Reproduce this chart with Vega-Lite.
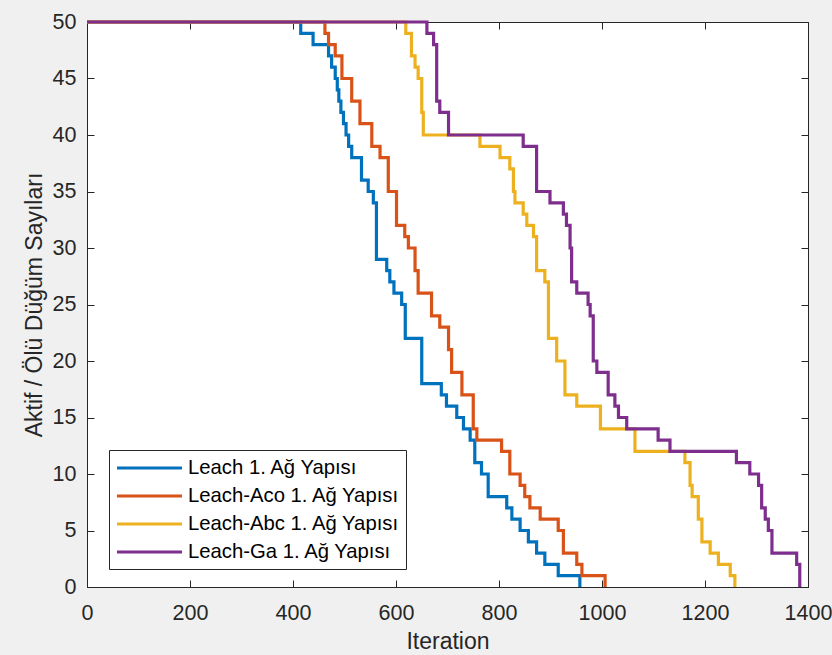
{
  "$schema": "https://vega.github.io/schema/vega-lite/v6.json",
  "width": 721,
  "height": 565,
  "autosize": {"type": "none"},
  "padding": {"left": 87, "top": 22, "right": 24, "bottom": 68},
  "background": "#f0f0f0",
  "config": {
    "font": "Liberation Sans",
    "view": {"fill": "white", "stroke": "#262626", "strokeWidth": 1},
    "axis": {
      "domainColor": "#262626",
      "tickColor": "#262626",
      "labelColor": "#262626",
      "titleColor": "#262626",
      "labelFont": "Liberation Sans",
      "titleFont": "Liberation Sans",
      "labelFontSize": 21.5,
      "titleFontSize": 23,
      "titleFontWeight": "normal",
      "grid": false,
      "tickSize": -7,
      "labelPadding": 18,
      "labelFlush": false,
      "labelOverlap": false,
      "format": "d"
    }
  },
  "data": {
    "values": [
      {"s": "Leach 1. Ağ Yapısı", "iteration": 0, "alive": 50},
      {"s": "Leach 1. Ağ Yapısı", "iteration": 415, "alive": 49},
      {"s": "Leach 1. Ağ Yapısı", "iteration": 439, "alive": 48},
      {"s": "Leach 1. Ağ Yapısı", "iteration": 469, "alive": 47},
      {"s": "Leach 1. Ağ Yapısı", "iteration": 475, "alive": 46},
      {"s": "Leach 1. Ağ Yapısı", "iteration": 482, "alive": 45},
      {"s": "Leach 1. Ağ Yapısı", "iteration": 486, "alive": 44},
      {"s": "Leach 1. Ağ Yapısı", "iteration": 489, "alive": 43},
      {"s": "Leach 1. Ağ Yapısı", "iteration": 493, "alive": 42},
      {"s": "Leach 1. Ağ Yapısı", "iteration": 498, "alive": 41},
      {"s": "Leach 1. Ağ Yapısı", "iteration": 503, "alive": 40},
      {"s": "Leach 1. Ağ Yapısı", "iteration": 508, "alive": 39},
      {"s": "Leach 1. Ağ Yapısı", "iteration": 514, "alive": 38},
      {"s": "Leach 1. Ağ Yapısı", "iteration": 533, "alive": 36},
      {"s": "Leach 1. Ağ Yapısı", "iteration": 546, "alive": 35},
      {"s": "Leach 1. Ağ Yapısı", "iteration": 556, "alive": 34},
      {"s": "Leach 1. Ağ Yapısı", "iteration": 562, "alive": 29},
      {"s": "Leach 1. Ağ Yapısı", "iteration": 582, "alive": 28},
      {"s": "Leach 1. Ağ Yapısı", "iteration": 588, "alive": 27},
      {"s": "Leach 1. Ağ Yapısı", "iteration": 596, "alive": 26},
      {"s": "Leach 1. Ağ Yapısı", "iteration": 611, "alive": 25},
      {"s": "Leach 1. Ağ Yapısı", "iteration": 618, "alive": 22},
      {"s": "Leach 1. Ağ Yapısı", "iteration": 650, "alive": 18},
      {"s": "Leach 1. Ağ Yapısı", "iteration": 688, "alive": 17},
      {"s": "Leach 1. Ağ Yapısı", "iteration": 698, "alive": 16},
      {"s": "Leach 1. Ağ Yapısı", "iteration": 718, "alive": 15},
      {"s": "Leach 1. Ağ Yapısı", "iteration": 731, "alive": 14},
      {"s": "Leach 1. Ağ Yapısı", "iteration": 744, "alive": 13},
      {"s": "Leach 1. Ağ Yapısı", "iteration": 753, "alive": 11},
      {"s": "Leach 1. Ağ Yapısı", "iteration": 766, "alive": 10},
      {"s": "Leach 1. Ağ Yapısı", "iteration": 779, "alive": 8},
      {"s": "Leach 1. Ağ Yapısı", "iteration": 815, "alive": 7},
      {"s": "Leach 1. Ağ Yapısı", "iteration": 825, "alive": 6},
      {"s": "Leach 1. Ağ Yapısı", "iteration": 841, "alive": 5},
      {"s": "Leach 1. Ağ Yapısı", "iteration": 857, "alive": 4},
      {"s": "Leach 1. Ağ Yapısı", "iteration": 873, "alive": 3},
      {"s": "Leach 1. Ağ Yapısı", "iteration": 889, "alive": 2},
      {"s": "Leach 1. Ağ Yapısı", "iteration": 915, "alive": 1},
      {"s": "Leach 1. Ağ Yapısı", "iteration": 957, "alive": 0},

      {"s": "Leach-Aco 1. Ağ Yapısı", "iteration": 0, "alive": 50},
      {"s": "Leach-Aco 1. Ağ Yapısı", "iteration": 462, "alive": 49},
      {"s": "Leach-Aco 1. Ağ Yapısı", "iteration": 469, "alive": 48},
      {"s": "Leach-Aco 1. Ağ Yapısı", "iteration": 482, "alive": 47},
      {"s": "Leach-Aco 1. Ağ Yapısı", "iteration": 495, "alive": 45},
      {"s": "Leach-Aco 1. Ağ Yapısı", "iteration": 514, "alive": 43},
      {"s": "Leach-Aco 1. Ağ Yapısı", "iteration": 530, "alive": 41},
      {"s": "Leach-Aco 1. Ağ Yapısı", "iteration": 553, "alive": 39},
      {"s": "Leach-Aco 1. Ağ Yapısı", "iteration": 569, "alive": 38},
      {"s": "Leach-Aco 1. Ağ Yapısı", "iteration": 585, "alive": 35},
      {"s": "Leach-Aco 1. Ağ Yapısı", "iteration": 601, "alive": 32},
      {"s": "Leach-Aco 1. Ağ Yapısı", "iteration": 617, "alive": 31},
      {"s": "Leach-Aco 1. Ağ Yapısı", "iteration": 624, "alive": 30},
      {"s": "Leach-Aco 1. Ağ Yapısı", "iteration": 637, "alive": 28},
      {"s": "Leach-Aco 1. Ağ Yapısı", "iteration": 643, "alive": 26},
      {"s": "Leach-Aco 1. Ağ Yapısı", "iteration": 669, "alive": 24},
      {"s": "Leach-Aco 1. Ağ Yapısı", "iteration": 685, "alive": 23},
      {"s": "Leach-Aco 1. Ağ Yapısı", "iteration": 702, "alive": 21},
      {"s": "Leach-Aco 1. Ağ Yapısı", "iteration": 708, "alive": 19},
      {"s": "Leach-Aco 1. Ağ Yapısı", "iteration": 728, "alive": 17},
      {"s": "Leach-Aco 1. Ağ Yapısı", "iteration": 750, "alive": 14},
      {"s": "Leach-Aco 1. Ağ Yapısı", "iteration": 757, "alive": 13},
      {"s": "Leach-Aco 1. Ağ Yapısı", "iteration": 805, "alive": 12},
      {"s": "Leach-Aco 1. Ağ Yapısı", "iteration": 821, "alive": 10},
      {"s": "Leach-Aco 1. Ağ Yapısı", "iteration": 841, "alive": 9},
      {"s": "Leach-Aco 1. Ağ Yapısı", "iteration": 850, "alive": 8},
      {"s": "Leach-Aco 1. Ağ Yapısı", "iteration": 860, "alive": 7},
      {"s": "Leach-Aco 1. Ağ Yapısı", "iteration": 880, "alive": 6},
      {"s": "Leach-Aco 1. Ağ Yapısı", "iteration": 915, "alive": 5},
      {"s": "Leach-Aco 1. Ağ Yapısı", "iteration": 925, "alive": 3},
      {"s": "Leach-Aco 1. Ağ Yapısı", "iteration": 951, "alive": 2},
      {"s": "Leach-Aco 1. Ağ Yapısı", "iteration": 961, "alive": 1},
      {"s": "Leach-Aco 1. Ağ Yapısı", "iteration": 1006, "alive": 0},

      {"s": "Leach-Abc 1. Ağ Yapısı", "iteration": 0, "alive": 50},
      {"s": "Leach-Abc 1. Ağ Yapısı", "iteration": 619, "alive": 49},
      {"s": "Leach-Abc 1. Ağ Yapısı", "iteration": 630, "alive": 47},
      {"s": "Leach-Abc 1. Ağ Yapısı", "iteration": 637, "alive": 46},
      {"s": "Leach-Abc 1. Ağ Yapısı", "iteration": 643, "alive": 45},
      {"s": "Leach-Abc 1. Ağ Yapısı", "iteration": 650, "alive": 42},
      {"s": "Leach-Abc 1. Ağ Yapısı", "iteration": 653, "alive": 40},
      {"s": "Leach-Abc 1. Ağ Yapısı", "iteration": 763, "alive": 39},
      {"s": "Leach-Abc 1. Ağ Yapısı", "iteration": 802, "alive": 38},
      {"s": "Leach-Abc 1. Ağ Yapısı", "iteration": 821, "alive": 37},
      {"s": "Leach-Abc 1. Ağ Yapısı", "iteration": 828, "alive": 35},
      {"s": "Leach-Abc 1. Ağ Yapısı", "iteration": 831, "alive": 34},
      {"s": "Leach-Abc 1. Ağ Yapısı", "iteration": 847, "alive": 33},
      {"s": "Leach-Abc 1. Ağ Yapısı", "iteration": 854, "alive": 32},
      {"s": "Leach-Abc 1. Ağ Yapısı", "iteration": 867, "alive": 31},
      {"s": "Leach-Abc 1. Ağ Yapısı", "iteration": 873, "alive": 28},
      {"s": "Leach-Abc 1. Ağ Yapısı", "iteration": 889, "alive": 27},
      {"s": "Leach-Abc 1. Ağ Yapısı", "iteration": 896, "alive": 22},
      {"s": "Leach-Abc 1. Ağ Yapısı", "iteration": 912, "alive": 20},
      {"s": "Leach-Abc 1. Ağ Yapısı", "iteration": 928, "alive": 17},
      {"s": "Leach-Abc 1. Ağ Yapısı", "iteration": 951, "alive": 16},
      {"s": "Leach-Abc 1. Ağ Yapısı", "iteration": 997, "alive": 14},
      {"s": "Leach-Abc 1. Ağ Yapısı", "iteration": 1064, "alive": 12},
      {"s": "Leach-Abc 1. Ağ Yapısı", "iteration": 1161, "alive": 11},
      {"s": "Leach-Abc 1. Ağ Yapısı", "iteration": 1171, "alive": 9},
      {"s": "Leach-Abc 1. Ağ Yapısı", "iteration": 1175, "alive": 8},
      {"s": "Leach-Abc 1. Ağ Yapısı", "iteration": 1187, "alive": 6},
      {"s": "Leach-Abc 1. Ağ Yapısı", "iteration": 1194, "alive": 4},
      {"s": "Leach-Abc 1. Ağ Yapısı", "iteration": 1210, "alive": 3},
      {"s": "Leach-Abc 1. Ağ Yapısı", "iteration": 1226, "alive": 2},
      {"s": "Leach-Abc 1. Ağ Yapısı", "iteration": 1249, "alive": 1},
      {"s": "Leach-Abc 1. Ağ Yapısı", "iteration": 1258, "alive": 0},

      {"s": "Leach-Ga 1. Ağ Yapısı", "iteration": 0, "alive": 50},
      {"s": "Leach-Ga 1. Ağ Yapısı", "iteration": 660, "alive": 49},
      {"s": "Leach-Ga 1. Ağ Yapısı", "iteration": 673, "alive": 48},
      {"s": "Leach-Ga 1. Ağ Yapısı", "iteration": 679, "alive": 43},
      {"s": "Leach-Ga 1. Ağ Yapısı", "iteration": 685, "alive": 42},
      {"s": "Leach-Ga 1. Ağ Yapısı", "iteration": 702, "alive": 40},
      {"s": "Leach-Ga 1. Ağ Yapısı", "iteration": 847, "alive": 39},
      {"s": "Leach-Ga 1. Ağ Yapısı", "iteration": 873, "alive": 35},
      {"s": "Leach-Ga 1. Ağ Yapısı", "iteration": 899, "alive": 34},
      {"s": "Leach-Ga 1. Ağ Yapısı", "iteration": 925, "alive": 33},
      {"s": "Leach-Ga 1. Ağ Yapısı", "iteration": 931, "alive": 32},
      {"s": "Leach-Ga 1. Ağ Yapısı", "iteration": 938, "alive": 30},
      {"s": "Leach-Ga 1. Ağ Yapısı", "iteration": 941, "alive": 27},
      {"s": "Leach-Ga 1. Ağ Yapısı", "iteration": 951, "alive": 26},
      {"s": "Leach-Ga 1. Ağ Yapısı", "iteration": 973, "alive": 25},
      {"s": "Leach-Ga 1. Ağ Yapısı", "iteration": 977, "alive": 24},
      {"s": "Leach-Ga 1. Ağ Yapısı", "iteration": 983, "alive": 20},
      {"s": "Leach-Ga 1. Ağ Yapısı", "iteration": 990, "alive": 19},
      {"s": "Leach-Ga 1. Ağ Yapısı", "iteration": 1012, "alive": 17},
      {"s": "Leach-Ga 1. Ağ Yapısı", "iteration": 1025, "alive": 16},
      {"s": "Leach-Ga 1. Ağ Yapısı", "iteration": 1032, "alive": 15},
      {"s": "Leach-Ga 1. Ağ Yapısı", "iteration": 1048, "alive": 14},
      {"s": "Leach-Ga 1. Ağ Yapısı", "iteration": 1109, "alive": 13},
      {"s": "Leach-Ga 1. Ağ Yapısı", "iteration": 1132, "alive": 12},
      {"s": "Leach-Ga 1. Ağ Yapısı", "iteration": 1261, "alive": 11},
      {"s": "Leach-Ga 1. Ağ Yapısı", "iteration": 1287, "alive": 10},
      {"s": "Leach-Ga 1. Ağ Yapısı", "iteration": 1304, "alive": 9},
      {"s": "Leach-Ga 1. Ağ Yapısı", "iteration": 1310, "alive": 7},
      {"s": "Leach-Ga 1. Ağ Yapısı", "iteration": 1317, "alive": 6},
      {"s": "Leach-Ga 1. Ağ Yapısı", "iteration": 1323, "alive": 5},
      {"s": "Leach-Ga 1. Ağ Yapısı", "iteration": 1330, "alive": 3},
      {"s": "Leach-Ga 1. Ağ Yapısı", "iteration": 1378, "alive": 2},
      {"s": "Leach-Ga 1. Ağ Yapısı", "iteration": 1384, "alive": 0}
    ]
  },
  "layer": [
    {
      "transform": [{"filter": {"field": "s", "oneOf": ["Leach 1. Ağ Yapısı", "Leach-Aco 1. Ağ Yapısı"]}}],
      "mark": {"type": "line", "interpolate": "step-after", "strokeWidth": 3.2, "strokeJoin": "miter"},
      "encoding": {
        "x": {
          "field": "iteration", "type": "quantitative",
          "scale": {"domain": [0, 1400], "nice": false, "zero": false},
          "axis": {"orient": "bottom", "title": "Iteration", "values": [0, 200, 400, 600, 800, 1000, 1200, 1400], "labelPadding": 22, "titlePadding": 7}
        },
        "y": {
          "field": "alive", "type": "quantitative",
          "scale": {"domain": [0, 50], "nice": false},
          "axis": {"orient": "left", "title": "Aktif / Ölü Düğüm Sayıları", "values": [0, 5, 10, 15, 20, 25, 30, 35, 40, 45, 50], "titlePadding": 6}
        },
        "color": {
          "field": "s", "type": "nominal",
          "scale": {
            "domain": ["Leach 1. Ağ Yapısı", "Leach-Aco 1. Ağ Yapısı", "Leach-Abc 1. Ağ Yapısı", "Leach-Ga 1. Ağ Yapısı"],
            "range": ["#0072BD", "#D95319", "#EDB120", "#7E2F8E"]
          },
          "legend": {
            "title": null,
            "orient": "none",
            "legendX": 22,
            "legendY": 428,
            "symbolType": "M-1,0H5.5",
            "symbolStrokeWidth": 3.2,
            "symbolSize": 400,
            "labelFontSize": 20.3,
            "labelColor": "#000000",
            "labelFont": "Liberation Sans",
            "strokeColor": "#262626",
            "fillColor": "white",
            "padding": 6,
            "rowPadding": 5,
            "labelOffset": 49,
            "labelLimit": 400
          }
        }
      }
    },
    {
      "transform": [{"filter": {"field": "s", "oneOf": ["Leach-Abc 1. Ağ Yapısı", "Leach-Ga 1. Ağ Yapısı"]}}],
      "mark": {"type": "line", "interpolate": "step-after", "strokeWidth": 3.2, "strokeJoin": "miter"},
      "encoding": {
        "x": {
          "field": "iteration", "type": "quantitative",
          "axis": {"orient": "top", "title": null, "labels": false, "values": [0, 200, 400, 600, 800, 1000, 1200, 1400]}
        },
        "y": {
          "field": "alive", "type": "quantitative",
          "axis": {"orient": "right", "title": null, "labels": false, "values": [0, 5, 10, 15, 20, 25, 30, 35, 40, 45, 50]}
        },
        "color": {"field": "s", "type": "nominal"}
      }
    }
  ],
  "resolve": {"axis": {"x": "independent", "y": "independent"}}
}
